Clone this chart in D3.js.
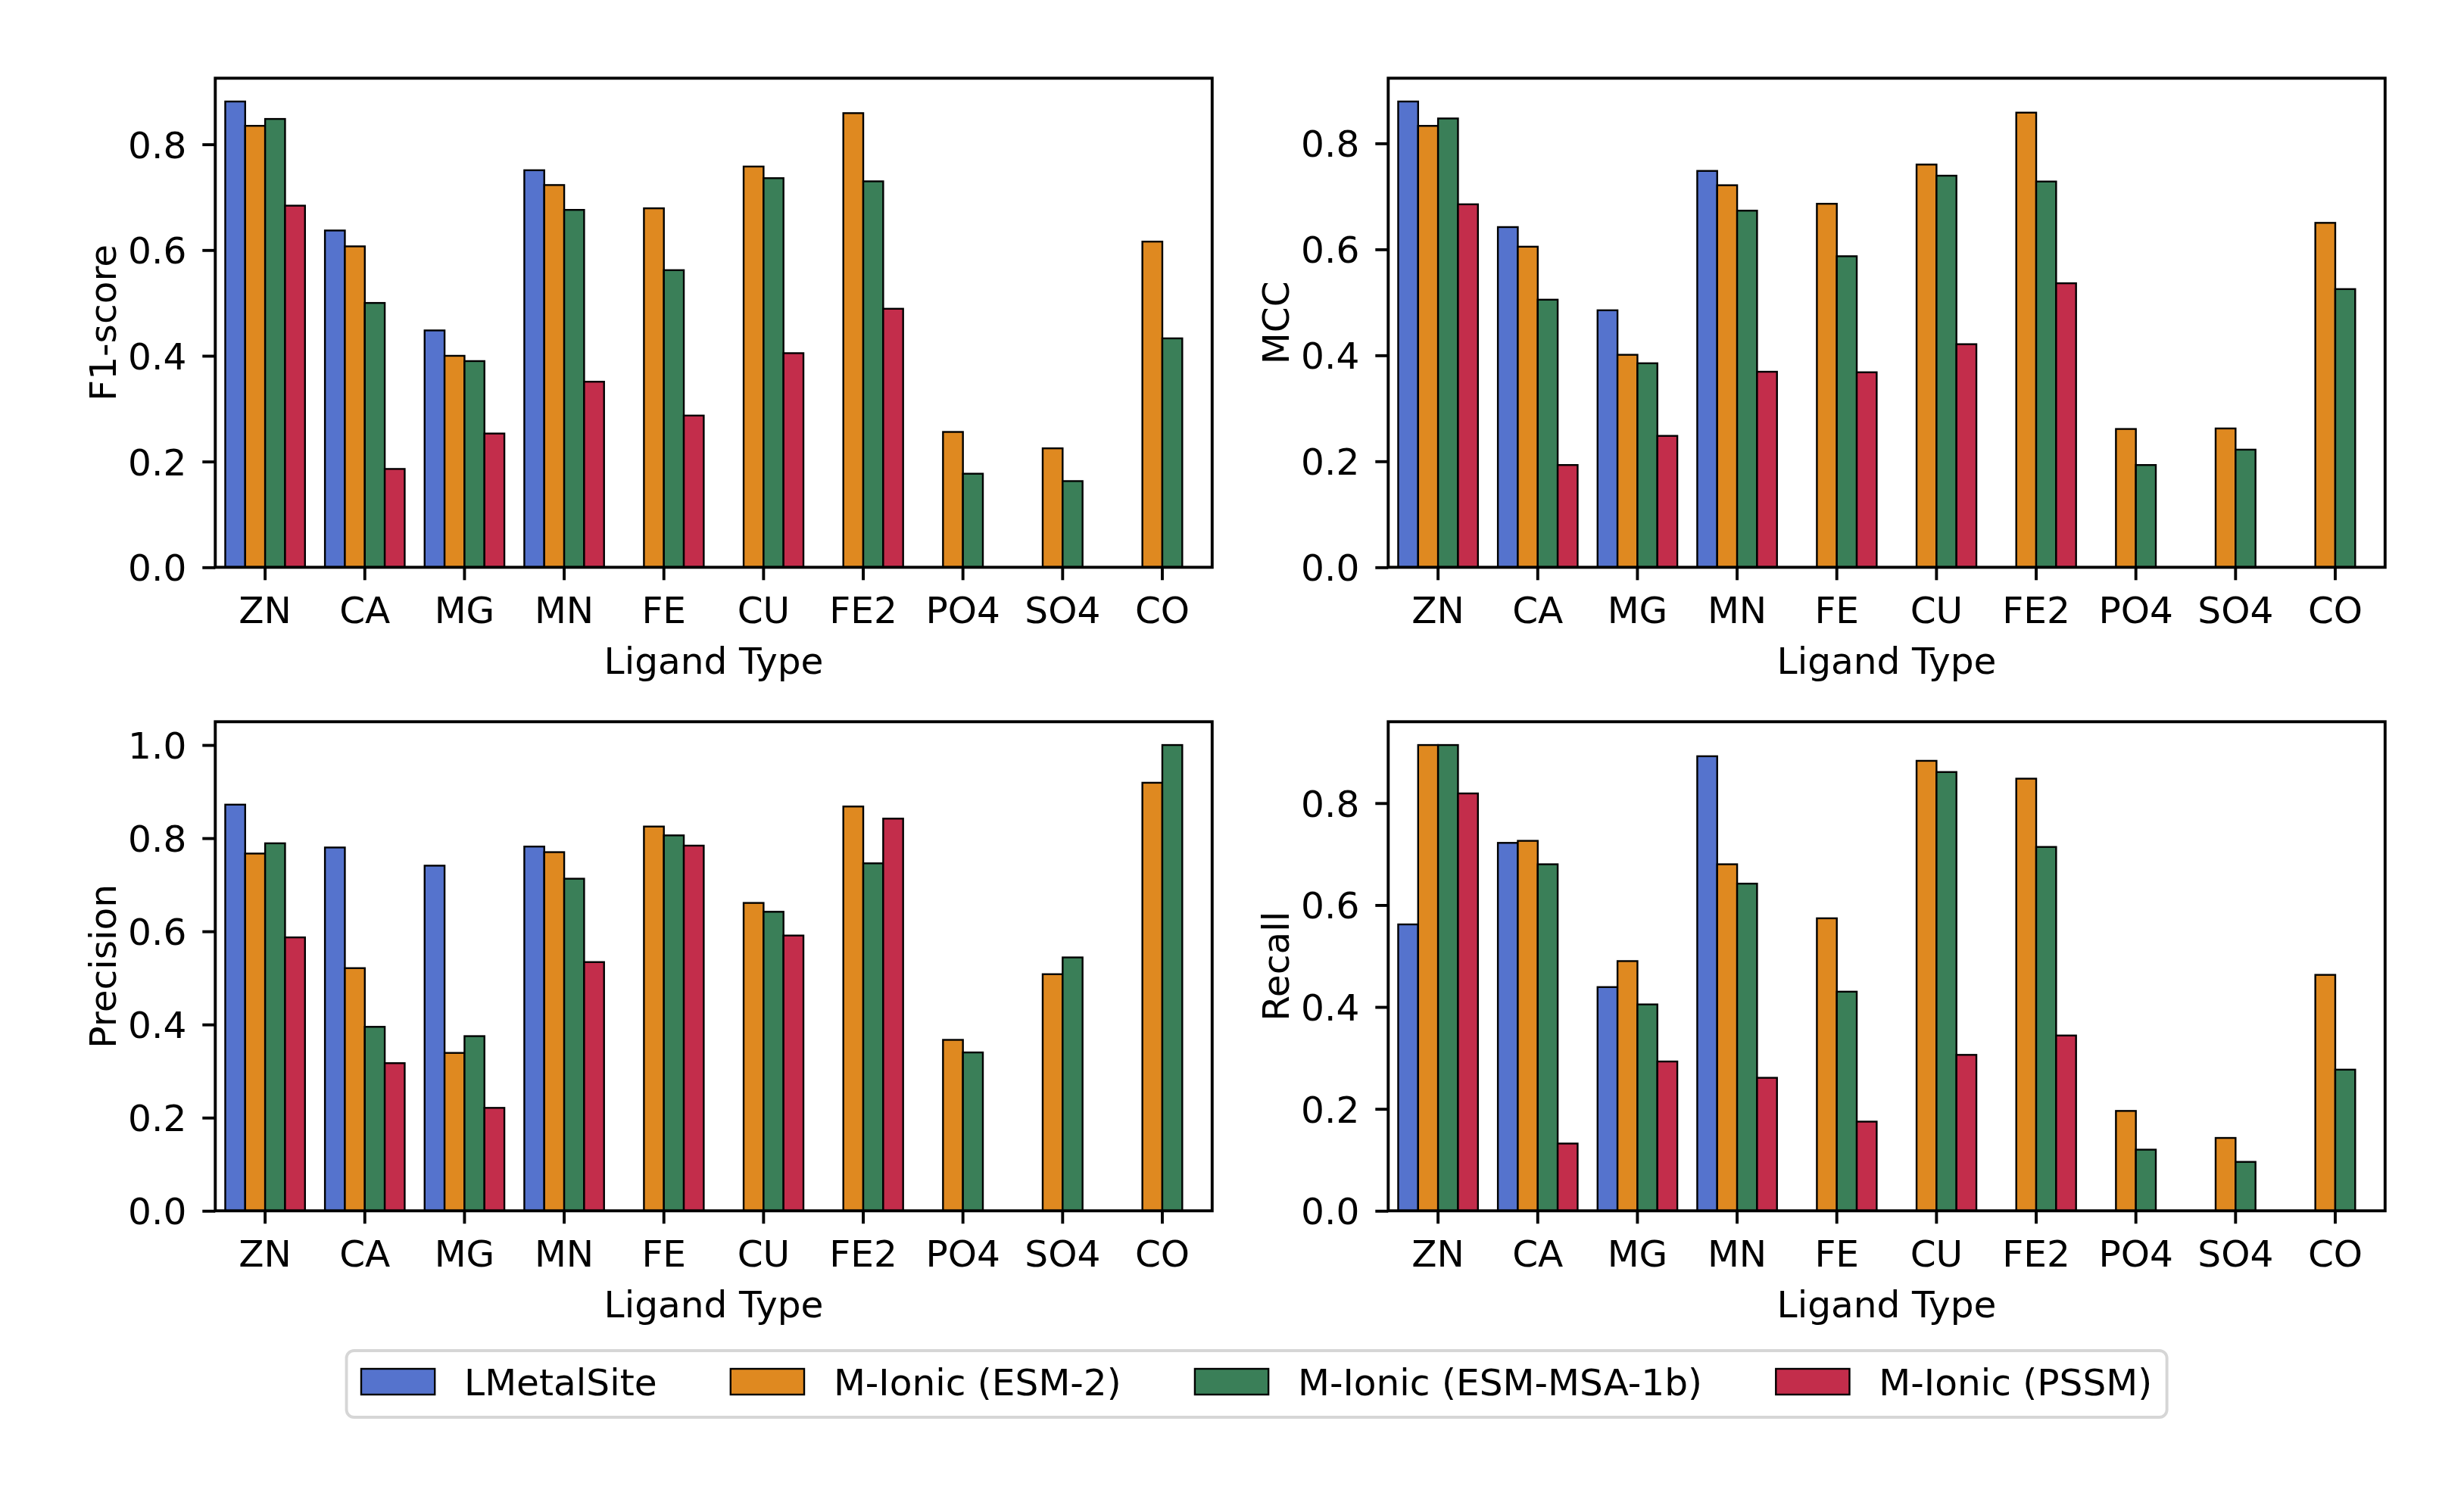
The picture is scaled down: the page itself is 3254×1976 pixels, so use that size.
<!DOCTYPE html>
<html>
<head>
<meta charset="utf-8">
<style>
  body { margin: 0; background: #fff; }
  text { font-family: "DejaVu Sans", sans-serif; fill: #000; }
</style>
</head>
<body>
<script src="https://cdn.jsdelivr.net/npm/d3@7"></script>
<script>
  const categories = ['ZN', 'CA', 'MG', 'MN', 'FE', 'CU', 'FE2', 'PO4', 'SO4', 'CO'];
  const seriesNames = ['LMetalSite', 'M-Ionic (ESM-2)', 'M-Ionic (ESM-MSA-1b)', 'M-Ionic (PSSM)'];
  const seriesColors = ['#5573CD', '#DF8920', '#3A7F58', '#C32D4B'];

  // one row per series, one value per ligand (null = no bar)
  const f1Values = [
    [0.881, 0.637, 0.448, 0.751, null, null, null, null, null, null],
    [0.835, 0.607, 0.400, 0.723, 0.679, 0.758, 0.859, 0.256, 0.225, 0.616],
    [0.848, 0.500, 0.390, 0.676, 0.562, 0.736, 0.730, 0.177, 0.163, 0.433],
    [0.684, 0.186, 0.253, 0.351, 0.287, 0.405, 0.489, null, null, null]
  ];
  const mccValues = [
    [0.879, 0.642, 0.485, 0.748, null, null, null, null, null, null],
    [0.833, 0.605, 0.401, 0.721, 0.686, 0.760, 0.858, 0.261, 0.262, 0.650],
    [0.847, 0.505, 0.385, 0.673, 0.587, 0.739, 0.728, 0.193, 0.222, 0.525],
    [0.685, 0.193, 0.248, 0.369, 0.368, 0.421, 0.536, null, null, null]
  ];
  const precisionValues = [
    [0.872, 0.780, 0.741, 0.782, null, null, null, null, null, null],
    [0.767, 0.521, 0.339, 0.770, 0.825, 0.661, 0.868, 0.367, 0.508, 0.919],
    [0.789, 0.395, 0.375, 0.713, 0.806, 0.642, 0.746, 0.340, 0.544, 1.000],
    [0.587, 0.317, 0.221, 0.534, 0.784, 0.591, 0.842, null, null, null]
  ];
  const recallValues = [
    [0.562, 0.722, 0.439, 0.892, null, null, null, null, null, null],
    [0.914, 0.726, 0.490, 0.680, 0.574, 0.883, 0.848, 0.196, 0.143, 0.463],
    [0.914, 0.680, 0.405, 0.642, 0.430, 0.861, 0.714, 0.120, 0.096, 0.277],
    [0.819, 0.132, 0.293, 0.261, 0.175, 0.306, 0.344, null, null, null]
  ];

  const W = 3254, H = 1976;
  const fs = 48.6;        // 10pt at 350 dpi
  const lw = 3.9;         // spine / tick width
  const tickLen = 17;

  const panels = [
    { label: 'F1-score',  values: f1Values,        left: 284.3,  top: 103.3, ticks: [0, 0.2, 0.4, 0.6, 0.8] },
    { label: 'MCC',       values: mccValues,       left: 1833.3, top: 103.3, ticks: [0, 0.2, 0.4, 0.6, 0.8] },
    { label: 'Precision', values: precisionValues, left: 284.3,  top: 953.3, ticks: [0, 0.2, 0.4, 0.6, 0.8, 1.0] },
    { label: 'Recall',    values: recallValues,    left: 1833.3, top: 953.3, ticks: [0, 0.2, 0.4, 0.6, 0.8] }
  ];
  const pw = 1316.5, ph = 646;

  const svg = d3.select('body').append('svg')
    .attr('width', W).attr('height', H)
    .attr('viewBox', `0 0 ${W} ${H}`);
  svg.append('rect').attr('width', W).attr('height', H).attr('fill', '#fff');

  const x = d3.scaleBand().domain(categories).range([0, pw])
    .paddingInner(0.2).paddingOuter(0.1);
  const xs = d3.scaleBand().domain(d3.range(seriesNames.length)).range([0, x.bandwidth()]);

  panels.forEach(p => {
    const g = svg.append('g').attr('transform', `translate(${p.left}, ${p.top})`);
    const maxV = d3.max(p.values.flat());
    const y = d3.scaleLinear().domain([0, maxV * 1.05]).range([ph, 0]);

    p.values.forEach((row, si) => {
      const pts = row.map((v, ci) => ({ v, c: categories[ci] })).filter(d => d.v != null);
      g.selectAll(null).data(pts).enter().append('rect')
        .attr('x', d => x(d.c) + xs(si))
        .attr('width', xs.bandwidth())
        .attr('y', d => y(d.v))
        .attr('height', d => y(0) - y(d.v))
        .attr('fill', seriesColors[si])
        .attr('stroke', '#000')
        .attr('stroke-width', 2.4);
    });

    const xAxis = d3.axisBottom(x).tickSize(tickLen).tickSizeOuter(0).tickPadding(22.5);
    const gx = g.append('g').attr('transform', `translate(0, ${ph})`).call(xAxis);
    const yAxis = d3.axisLeft(y).tickValues(p.ticks).tickFormat(d3.format('.1f'))
      .tickSize(tickLen).tickSizeOuter(0).tickPadding(21);
    const gy = g.append('g').call(yAxis);
    [gx, gy].forEach(a => {
      a.select('.domain').remove();
      a.selectAll('line').attr('stroke', '#000').attr('stroke-width', lw);
      a.selectAll('text').attr('font-size', fs).attr('fill', '#000')
        .attr('font-family', '"DejaVu Sans", sans-serif');
    });
    gy.selectAll('text').attr('dy', '0.36em');

    g.append('rect').attr('width', pw).attr('height', ph)
      .attr('fill', 'none').attr('stroke', '#000').attr('stroke-width', lw);

    g.append('text').attr('x', pw / 2).attr('y', ph + 140.7)
      .attr('text-anchor', 'middle').attr('font-size', fs).text('Ligand Type');

    g.append('text')
      .attr('transform', `translate(-131, ${ph / 2}) rotate(-90)`)
      .attr('text-anchor', 'middle').attr('font-size', fs).text(p.label);
  });

  // legend (matplotlib-like spacing in font units)
  const handleW = 2 * fs, textPad = 0.8 * fs, colGap = 2 * fs, borderPad = 0.4 * fs;
  const lg = svg.append('g');
  const box = lg.append('rect');
  const items = lg.selectAll(null).data(seriesNames).enter().append('g');
  items.append('rect').attr('width', handleW).attr('height', 0.7 * fs)
    .attr('y', 1808)
    .attr('fill', (d, i) => seriesColors[i]).attr('stroke', '#000').attr('stroke-width', 2.4);
  items.append('text').attr('x', handleW + textPad).attr('y', 1843).attr('font-size', fs).text(d => d);
  let cx = 477;
  items.each(function () {
    const t = d3.select(this).select('text').node().getComputedTextLength();
    d3.select(this).attr('transform', `translate(${cx}, 0)`);
    cx += handleW + textPad + t + colGap;
  });
  const boxLeft = 477 - borderPad, boxRight = cx - colGap + borderPad;
  box.attr('x', boxLeft).attr('y', 1784).attr('width', boxRight - boxLeft).attr('height', 88)
    .attr('rx', 10).attr('fill', '#fff').attr('stroke', '#d6d6d6').attr('stroke-width', 3.9);
</script>
</body>
</html>
